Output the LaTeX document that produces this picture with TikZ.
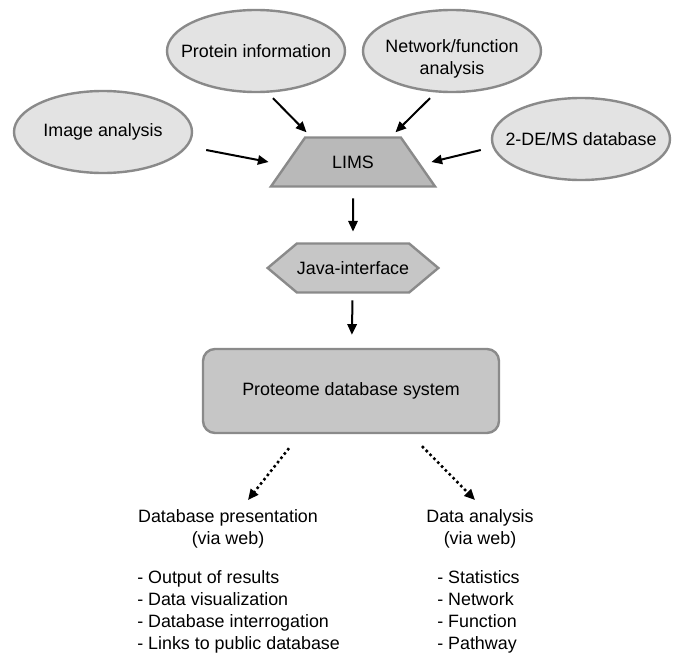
\documentclass[tikz,border=0pt]{standalone}
\usepackage{fontspec}
\setmainfont{Liberation Sans}
\usetikzlibrary{shapes.geometric,shapes.symbols,arrows.meta}
\definecolor{edgegray}{HTML}{8A8A8A}
\definecolor{lightfill}{HTML}{E3E3E3}
\definecolor{midfill}{HTML}{C6C6C6}
\definecolor{darkfill}{HTML}{B9B9B9}
\begin{document}
\begin{tikzpicture}[x=0.75pt, y=-0.75pt,
        font=\fontsize{13.4}{16.5}\selectfont,
        oval/.style={draw=edgegray, line width=1.8pt, fill=lightfill, ellipse, inner xsep=-25pt, inner ysep=-8pt, align=center, minimum width=133.5pt, minimum height=61.5pt},
        limsbox/.style={draw=edgegray, line width=1.8pt, fill=darkfill, trapezium, trapezium stretches=true, trapezium left angle=50, trapezium right angle=50, minimum width=123.75pt, minimum height=36.75pt},
        hexbox/.style={draw=edgegray, line width=1.8pt, fill=midfill, signal, signal to=west and east, signal pointer angle=80, minimum width=114pt, minimum height=36.75pt, inner sep=0pt},
        dbbox/.style={draw=edgegray, line width=1.8pt, fill=midfill, rounded corners=9pt, minimum width=222pt, minimum height=63pt},
        webtext/.style={inner sep=0pt, align=center},
        listtext/.style={inner sep=0pt, align=left},
        arrow/.style={-{Triangle[length=8pt,width=7pt]}, line width=1.5pt},
        dotarrow/.style={arrow, line width=1.9pt, dash pattern=on 1.9pt off 2.2pt}
    ]
        \useasboundingbox (0,0) rectangle (676,653);
        \node[oval] (img) at (103,132) {Image analysis};
        \node[oval] (prot) at (256,51) {Protein information};
        \node[oval] (net) at (452,51) {\rule{0pt}{21pt}Network/function\\analysis};
        \node[oval] (ms) at (581,139) {2-DE/MS database};
        \node[limsbox] (lims) at (353,162) {LIMS};
        \node[hexbox] (java) at (353,268) {Java-interface};
        \node[dbbox] (pds) at (351,391) {Proteome database system};
        \node[webtext] (pres) at (228,529) {Database presentation\\(via web)};
        \node[webtext] (ana) at (480,529) {Data analysis\\(via web)};
        \node[listtext, anchor=north west] (preslist) at (137,570) {- Output of results\\- Data visualization\\- Database interrogation\\- Links to public database};
        \node[listtext, anchor=north west] (analist) at (437,570) {- Statistics\\- Network\\- Function\\- Pathway};
        
        \draw[arrow] ([shift={(13,18)}]img.east) -- ([shift={(-18,0)}]lims.west);
        \draw[arrow] ([shift={(17,5)}]prot.south) -- ([shift={(2,-4)}]lims.top left corner);
        \draw[arrow] ([shift={(-22,5)}]net.south) -- ([shift={(-6,-4)}]lims.top right corner);
        \draw[arrow] ([shift={(-10,11)}]ms.west) -- ([shift={(12,0)}]lims.east);
        \draw[arrow, shorten <=8pt, shorten >=8pt] (lims) -- (java);
        \draw[arrow, shorten <=5pt, shorten >=9.75pt] (java) -- (pds);
        \draw[dotarrow] ([shift={(-62,14)}]pds.south) -- ([shift={(20,-29)}]pres.center);
        \draw[dotarrow] ([shift={(71,12)}]pds.south) -- ([shift={(-5,-29)}]ana.center);
    \end{tikzpicture}
\end{document}
